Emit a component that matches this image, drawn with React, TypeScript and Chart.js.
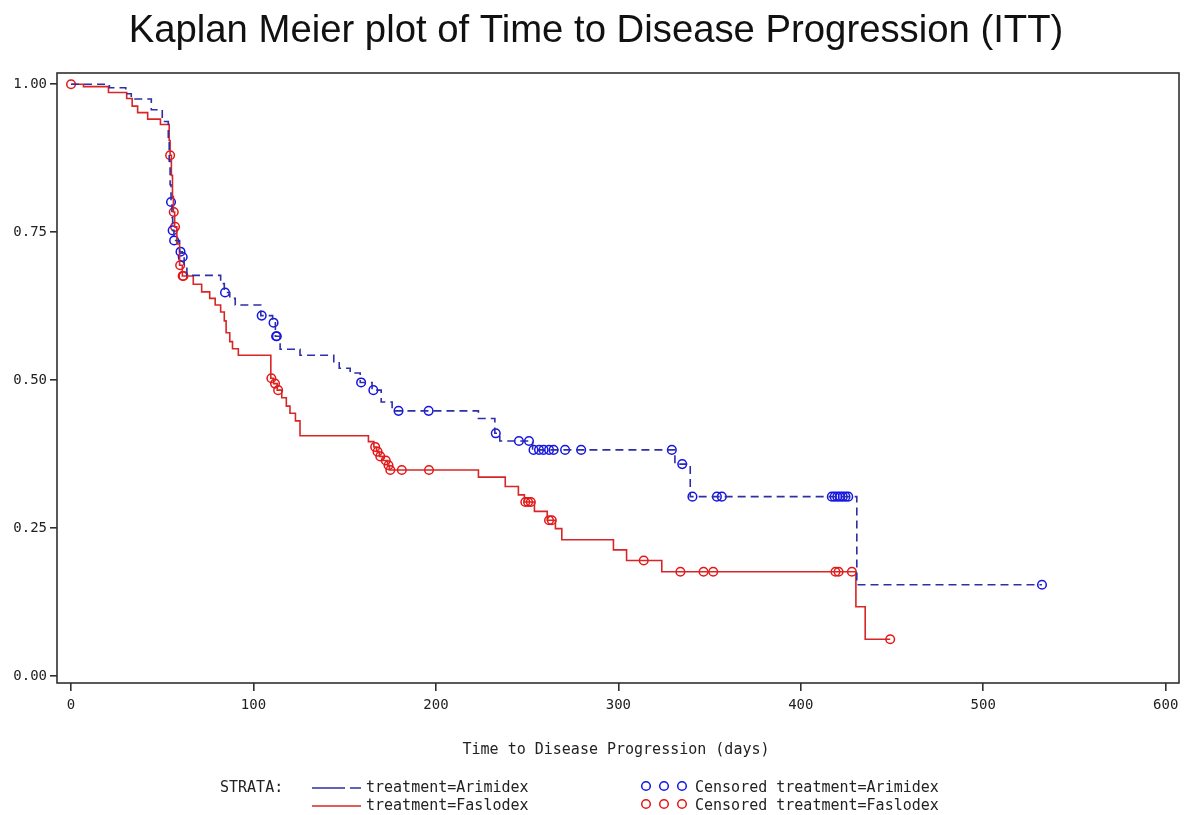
import React, { useEffect, useRef } from 'react';
import { Chart, registerables } from 'chart.js';

Chart.register(...registerables);

const titleText = 'Kaplan Meier plot of Time to Disease Progression (ITT)';
const xAxisTitle = 'Time to Disease Progression (days)';
const xTicks = [0, 100, 200, 300, 400, 500, 600];
const yTicks = [0, 0.25, 0.5, 0.75, 1.0];

const arimidexTime = [0, 21, 30, 33, 44, 50, 53.3, 53.8, 54.3, 54.8, 55.3, 55.7, 56.4, 59.5, 61.0, 62.0, 63.5, 82, 84, 87, 90, 104, 110.5, 112, 114.6, 125.5, 144, 147, 153, 158.5, 165, 170, 176, 223.3, 232.3, 235, 253, 331, 339.4, 430.7, 532.2];
const arimidexSurv = [1.0, 0.994, 0.984, 0.975, 0.957, 0.937, 0.905, 0.87, 0.83, 0.801, 0.775, 0.753, 0.736, 0.717, 0.708, 0.692, 0.677, 0.663, 0.648, 0.638, 0.627, 0.609, 0.597, 0.574, 0.552, 0.542, 0.531, 0.52, 0.512, 0.496, 0.483, 0.463, 0.448, 0.435, 0.41, 0.397, 0.382, 0.358, 0.303, 0.154, 0.154];

const arimidexCensorTime = [54.8, 55.7, 56.5, 60, 61.2, 84.4, 104.5, 111, 112.4, 112.8, 159, 165.7, 179.5, 196, 232.8, 245.5, 251, 253.5, 256.5, 259, 262, 264.5, 270.8, 279.6, 329.3, 335, 340.6, 354, 356.7, 417, 418.5, 420, 421.5, 423, 424.5, 426, 532.2];
const arimidexCensorSurv = [0.801, 0.753, 0.736, 0.717, 0.708, 0.648, 0.609, 0.597, 0.574, 0.574, 0.496, 0.483, 0.448, 0.448, 0.41, 0.397, 0.397, 0.382, 0.382, 0.382, 0.382, 0.382, 0.382, 0.382, 0.382, 0.358, 0.303, 0.303, 0.303, 0.303, 0.303, 0.303, 0.303, 0.303, 0.303, 0.303, 0.154];

const faslodexTime = [0, 6.8, 20.5, 30.5, 33.5, 36.5, 42, 49, 53.8, 54.3, 55, 55.6, 56.1, 56.8, 58, 59.5, 61, 67, 71.6, 76, 79, 82, 84, 85, 87, 88.5, 91.7, 109.5, 111, 113, 115.5, 118, 120, 123, 125.5, 163, 166, 167.5, 169, 171, 173.5, 174.5, 223.3, 238, 245.2, 248.5, 254, 261, 265.5, 269, 297.3, 304.5, 323.8, 430.2, 435.3, 449];
const faslodexSurv = [1.0, 0.996, 0.986, 0.976, 0.963, 0.952, 0.941, 0.932, 0.905, 0.88, 0.846, 0.81, 0.784, 0.759, 0.73, 0.694, 0.676, 0.662, 0.649, 0.638, 0.627, 0.615, 0.6, 0.58, 0.565, 0.553, 0.542, 0.503, 0.494, 0.483, 0.47, 0.456, 0.444, 0.431, 0.406, 0.396, 0.387, 0.379, 0.371, 0.364, 0.356, 0.348, 0.336, 0.32, 0.306, 0.294, 0.278, 0.263, 0.249, 0.23, 0.213, 0.195, 0.176, 0.117, 0.062, 0.062];

const faslodexCensorTime = [0, 54.3, 56.3, 57, 59.8, 61.2, 61.6, 109.8, 111.8, 113.5, 166.7, 168, 169.5, 172.5, 174, 175, 181.3, 196.2, 249, 250.5, 252, 262, 263.5, 313.9, 334, 346.7, 352, 419, 420.7, 428, 449];
const faslodexCensorSurv = [1.0, 0.88, 0.784, 0.759, 0.694, 0.676, 0.676, 0.503, 0.494, 0.483, 0.387, 0.379, 0.371, 0.364, 0.356, 0.348, 0.348, 0.348, 0.294, 0.294, 0.294, 0.263, 0.263, 0.195, 0.176, 0.176, 0.176, 0.176, 0.176, 0.176, 0.062];

const legendStrata = 'STRATA:';
const legendArimidex = 'treatment=Arimidex';
const legendFaslodex = 'treatment=Faslodex';
const legendCensA = 'Censored treatment=Arimidex';
const legendCensF = 'Censored treatment=Faslodex';

const BLUE_LINE = '#2e2ea6';
const BLUE_MARK = '#1414e6';
const RED_LINE = '#d82626';
const RED_MARK = '#e81414';
const MONO = '"DejaVu Sans Mono", "Liberation Mono", monospace';

function pts(xs: number[], ys: number[]) {
  return xs.map((x, i) => ({ x, y: ys[i] }));
}

const decorPlugin = {
  id: 'decor',
  afterDraw(chart: any) {
    const ctx = chart.ctx as CanvasRenderingContext2D;
    const a = chart.chartArea;
    ctx.save();
    // frame
    ctx.strokeStyle = '#303030';
    ctx.lineWidth = 1.6;
    ctx.setLineDash([]);
    ctx.strokeRect(a.left, a.top, a.right - a.left, a.bottom - a.top);

    // title
    ctx.fillStyle = '#111';
    ctx.font = '100px "Liberation Sans", Arial, sans-serif';
    const w100 = ctx.measureText(titleText).width;
    const size = (935 / w100) * 100;
    ctx.font = `${size.toFixed(2)}px "Liberation Sans", Arial, sans-serif`;
    ctx.textAlign = 'center';
    ctx.textBaseline = 'alphabetic';
    ctx.fillText(titleText, 596, 42);

    // x axis title
    ctx.font = `15px ${MONO}`;
    ctx.fillStyle = '#222';
    ctx.textBaseline = 'middle';
    ctx.fillText(xAxisTitle, 616, 750);

    // legend
    ctx.textAlign = 'left';
    ctx.fillText(legendStrata, 220, 788);
    ctx.fillText(legendArimidex, 366, 788);
    ctx.fillText(legendFaslodex, 366, 806);
    ctx.fillText(legendCensA, 695, 788);
    ctx.fillText(legendCensF, 695, 806);

    ctx.lineWidth = 1.6;
    ctx.strokeStyle = BLUE_LINE;
    ctx.setLineDash([33, 5]);
    ctx.beginPath();
    ctx.moveTo(312, 788);
    ctx.lineTo(361, 788);
    ctx.stroke();
    ctx.setLineDash([]);
    ctx.strokeStyle = RED_LINE;
    ctx.beginPath();
    ctx.moveTo(312, 806);
    ctx.lineTo(361, 806);
    ctx.stroke();

    const cx = [646, 664, 682];
    ctx.lineWidth = 1.5;
    cx.forEach((x) => {
      ctx.strokeStyle = BLUE_MARK;
      ctx.beginPath();
      ctx.arc(x, 786, 4.3, 0, Math.PI * 2);
      ctx.stroke();
      ctx.strokeStyle = RED_MARK;
      ctx.beginPath();
      ctx.arc(x, 804, 4.3, 0, Math.PI * 2);
      ctx.stroke();
    });
    ctx.restore();
  },
};

export default function App() {
  const ref = useRef<HTMLCanvasElement | null>(null);

  useEffect(() => {
    const canvas = ref.current;
    if (!canvas) return;
    const chart = new Chart(canvas, {
      type: 'line',
      data: {
        datasets: [
          {
            label: 'Arimidex',
            data: pts(arimidexTime, arimidexSurv),
            borderColor: BLUE_LINE,
            borderWidth: 1.6,
            borderDash: [8, 5],
            stepped: true,
            pointRadius: 0,
            fill: false,
          },
          {
            label: 'Faslodex',
            data: pts(faslodexTime, faslodexSurv),
            borderColor: RED_LINE,
            borderWidth: 1.6,
            stepped: true,
            pointRadius: 0,
            fill: false,
          },
          {
            label: 'Censored Arimidex',
            data: pts(arimidexCensorTime, arimidexCensorSurv),
            showLine: false,
            pointStyle: 'circle',
            pointRadius: 4.3,
            pointBorderWidth: 1.5,
            pointBorderColor: BLUE_MARK,
            pointBackgroundColor: 'rgba(0,0,0,0)',
            borderColor: BLUE_MARK,
          },
          {
            label: 'Censored Faslodex',
            data: pts(faslodexCensorTime, faslodexCensorSurv),
            showLine: false,
            pointStyle: 'circle',
            pointRadius: 4.3,
            pointBorderWidth: 1.5,
            pointBorderColor: RED_MARK,
            pointBackgroundColor: 'rgba(0,0,0,0)',
            borderColor: RED_MARK,
          },
        ],
      },
      options: {
        responsive: false,
        animation: false,
        devicePixelRatio: 1,
        layout: { padding: { top: 73, right: 9, left: 0, bottom: 0 } },
        plugins: {
          legend: { display: false },
          tooltip: { enabled: false },
          title: { display: false },
        },
        scales: {
          x: {
            type: 'linear',
            min: -7.7,
            max: 607.3,
            afterBuildTicks: (axis: any) => {
              axis.ticks = xTicks.map((v) => ({ value: v }));
            },
            afterFit: (s: any) => {
              s.height = 132;
            },
            grid: {
              display: true,
              drawOnChartArea: false,
              drawTicks: true,
              tickLength: 8,
              color: '#303030',
              lineWidth: 1.6,
            },
            border: { display: false },
            ticks: {
              autoSkip: false,
              maxRotation: 0,
              padding: 6,
              color: '#222',
              font: { family: MONO, size: 14 },
              callback: (v: any) => String(v),
            },
          },
          y: {
            type: 'linear',
            min: -0.012,
            max: 1.019,
            afterBuildTicks: (axis: any) => {
              axis.ticks = yTicks.map((v) => ({ value: v }));
            },
            afterFit: (s: any) => {
              s.width = 57;
            },
            grid: {
              display: true,
              drawOnChartArea: false,
              drawTicks: true,
              tickLength: 7,
              color: '#303030',
              lineWidth: 1.6,
            },
            border: { display: false },
            ticks: {
              autoSkip: false,
              padding: 3,
              color: '#222',
              font: { family: MONO, size: 14 },
              callback: (v: any) => Number(v).toFixed(2),
            },
          },
        },
      },
      plugins: [decorPlugin],
    });
    return () => chart.destroy();
  }, []);

  return (
    <div style={{ position: 'fixed', left: 0, top: 0, width: 1188, height: 815, background: '#fff' }}>
      <canvas ref={ref} width={1188} height={815} style={{ width: 1188, height: 815, display: 'block' }} />
    </div>
  );
}
